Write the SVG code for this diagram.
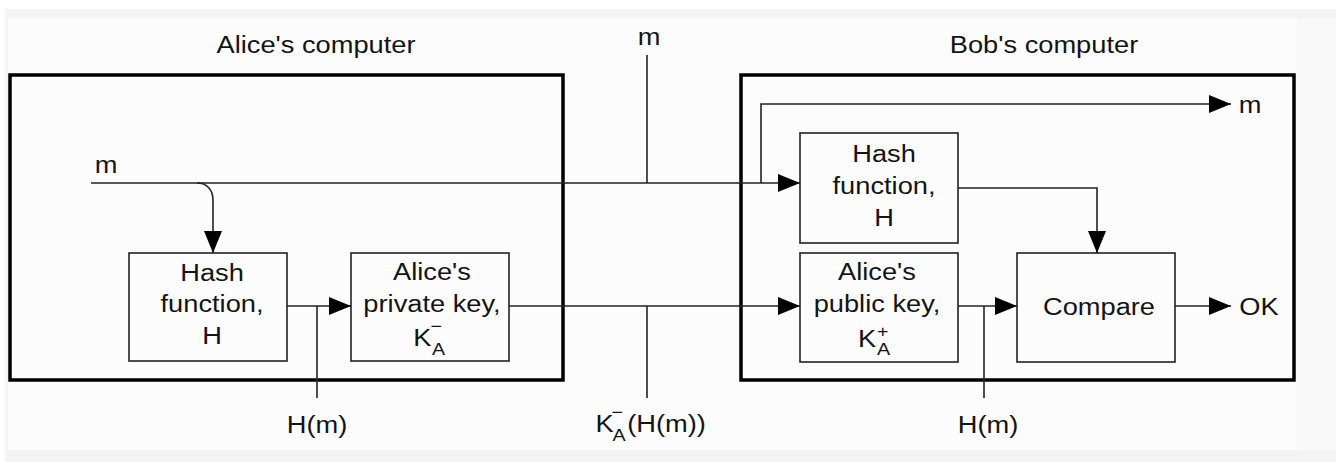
<svg xmlns="http://www.w3.org/2000/svg" width="1336" height="462" viewBox="0 0 1336 462">
<style>
.t{font-family:"Liberation Sans",Arial,sans-serif;font-size:23.5px;fill:#141414;text-anchor:middle}
.s{font-family:"Liberation Sans",Arial,sans-serif;font-size:17px;fill:#141414;text-anchor:start}
.k{font-family:"Liberation Sans",Arial,sans-serif;font-size:23.5px;fill:#141414;text-anchor:start}
.box{fill:none;stroke:#222;stroke-width:1.6}
.outer{fill:none;stroke:#000;stroke-width:3.5}
.ln{fill:none;stroke:#222;stroke-width:1.6}
.ar{fill:none;stroke:#222;stroke-width:1.6;marker-end:url(#ah)}
</style>
<defs>
<marker id="ah" markerUnits="userSpaceOnUse" viewBox="0 0 22 18" refX="22" refY="9" markerWidth="22" markerHeight="18" orient="auto">
<path d="M0,0 L22,9 L0,18 z" fill="#000"/>
</marker>
</defs>
<rect x="0" y="0" width="1336" height="462" fill="#ffffff"/>
<rect x="5" y="9" width="1331" height="453" fill="#f3f3f3"/>
<rect x="8" y="18" width="1289" height="432" fill="#fcfcfc"/>
<rect x="1297" y="18" width="39" height="432" fill="#f8f8f8"/>

<g id="alice-computer">
<rect class="outer" x="10" y="75" width="553" height="305"/>
<text class="t" transform="translate(316,53) scale(1.16,1)">Alice's computer</text>
</g>
<g id="bob-computer">
<rect class="outer" x="741" y="75" width="553" height="305"/>
<text class="t" transform="translate(1044,53) scale(1.16,1)">Bob's computer</text>
</g>

<g id="connectors">
<path class="ar" d="M91,183 H800"/>
<path class="ln" d="M647,55 V183"/>
<path class="ar" d="M197,183 C207,183 213,190 213,200 V253"/>
<path class="ar" d="M287,306 H351"/>
<path class="ln" d="M317,306 V398"/>
<path class="ar" d="M509,306 H800"/>
<path class="ln" d="M647,306 V398"/>
<path class="ar" d="M761,183 V104 H1231"/>
<path class="ar" d="M958,188 H1097 V253"/>
<path class="ar" d="M958,306 H1017"/>
<path class="ln" d="M984,306 V398"/>
<path class="ar" d="M1175,306 H1231"/>
</g>

<g id="alice-hash">
<rect class="box" x="129" y="253" width="158" height="108"/>
<text class="t" transform="translate(212,281) scale(1.16,1)">Hash</text>
<text class="t" transform="translate(212,312) scale(1.16,1)">function,</text>
<text class="t" transform="translate(212,344) scale(1.16,1)">H</text>
</g>
<g id="alice-private-key">
<rect class="box" x="351" y="253" width="158" height="108"/>
<text class="t" transform="translate(432,280) scale(1.16,1)">Alice's</text>
<text class="t" transform="translate(432,312) scale(1.16,1)">private key,</text>
<g transform="translate(430,346) scale(1.16,1)">
<text class="k" x="-14.5" y="0">K</text>
<text class="s" x="1.7" y="9">A</text>
<text class="s" x="0.5" y="-14">−</text>
</g>
</g>
<g id="bob-hash">
<rect class="box" x="800" y="133" width="158" height="110"/>
<text class="t" transform="translate(884,162) scale(1.16,1)">Hash</text>
<text class="t" transform="translate(884,194) scale(1.16,1)">function,</text>
<text class="t" transform="translate(884,226) scale(1.16,1)">H</text>
</g>
<g id="bob-public-key">
<rect class="box" x="800" y="253" width="158" height="109"/>
<text class="t" transform="translate(877,280) scale(1.16,1)">Alice's</text>
<text class="t" transform="translate(877,312) scale(1.16,1)">public key,</text>
<g transform="translate(874,347) scale(1.16,1)">
<text class="k" x="-13.7" y="0">K</text>
<text class="s" x="2.6" y="8">A</text>
<text class="s" x="2.6" y="-10">+</text>
</g>
</g>
<g id="compare">
<rect class="box" x="1017" y="253" width="158" height="109"/>
<text class="t" transform="translate(1099,315) scale(1.16,1)">Compare</text>
</g>

<g id="labels">
<text class="t" transform="translate(106,173) scale(1.16,1)">m</text>
<text class="t" transform="translate(649,45) scale(1.16,1)">m</text>
<text class="t" transform="translate(1250,113) scale(1.16,1)">m</text>
<text class="t" transform="translate(1259,315) scale(1.16,1)">OK</text>
<text class="t" transform="translate(317,433) scale(1.16,1)">H(m)</text>
<text class="t" transform="translate(988,433) scale(1.16,1)">H(m)</text>
<g transform="translate(652,432) scale(1.16,1)">
<text class="k" x="-48.7" y="0">K</text>
<text class="s" x="-34" y="9">A</text>
<text class="s" x="-35" y="-14">−</text>
<text class="k" x="-21.4" y="0">(H(m))</text>
</g>
</g>
</svg>
